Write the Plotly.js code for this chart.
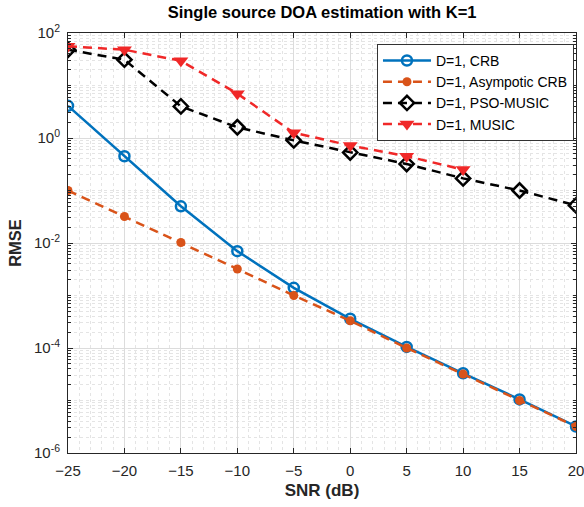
<!DOCTYPE html>
<html>
<head>
<meta charset="utf-8">
<script src="https://cdn.plot.ly/plotly-3.0.1.min.js"></script>
<style>html,body{margin:0;padding:0;background:#fff;}#chart{width:584px;height:507px;}</style>
</head>
<body>
<div id="chart"></div>
<script>
const snr = [-25, -20, -15, -10, -5, 0, 5, 10, 15, 20];
const snrMusic = [-25, -20, -15, -10, -5, 0, 5, 10];
const crb = [4.1, 0.45, 0.05, 0.007, 0.0014, 3.6e-4, 1.05e-4, 3.3e-5, 1.05e-5, 3.2e-6];
const asymCrb = [0.1, 0.032, 0.0102, 0.0032, 0.001, 3.3e-4, 1.0e-4, 3.2e-5, 1.0e-5, 3.2e-6];
const psoMusic = [48, 31, 4.0, 1.6, 0.9, 0.53, 0.32, 0.17, 0.1, 0.052];
const music = [56, 48, 29.5, 7, 1.26, 0.72, 0.45, 0.25];
const names = ['D=1, CRB', 'D=1, Asympotic CRB', 'D=1, PSO-MUSIC', 'D=1, MUSIC'];
const yTickVals = [1e-6, 1e-4, 1e-2, 1, 100];
const yTickText = ['10<sup>-6</sup>', '10<sup>-4</sup>', '10<sup>-2</sup>', '10<sup>0</sup>', '10<sup>2</sup>'];

const dash = '9px,6px';
const traces = [
  {x: snr, y: crb, name: names[0], mode: 'lines+markers',
   line: {color: '#0072BD', width: 2.5},
   marker: {symbol: 'circle-open', size: 10, color: '#0072BD', line: {width: 2.5, color: '#0072BD'}}},
  {x: snr, y: asymCrb, name: names[1], mode: 'lines+markers',
   line: {color: '#D95319', width: 2.5, dash: dash},
   marker: {symbol: 'circle', size: 9, color: '#D95319'}},
  {x: snr, y: psoMusic, name: names[2], mode: 'lines+markers',
   line: {color: '#000000', width: 2.5, dash: dash},
   marker: {symbol: 'diamond-open', size: 11, color: '#000000', line: {width: 2.5, color: '#000000'}}},
  {x: snrMusic, y: music, name: names[3], mode: 'lines+markers',
   line: {color: '#F02828', width: 2.5, dash: dash},
   marker: {symbol: 'triangle-down', size: 13, color: '#F02828'}}
];

const fam = 'Liberation Sans, Arial, sans-serif';
const axisFont = {family: fam, size: 15, color: '#262626'};
const layout = {
  width: 584, height: 507,
  margin: {l: 68, r: 8, t: 33, b: 54},
  paper_bgcolor: '#ffffff', plot_bgcolor: '#ffffff',
  font: axisFont,
  title: {text: '<b>Single source DOA estimation with K=1</b>', x: 0.5515, xanchor: 'center', y: 0.976, yanchor: 'middle',
          font: {family: fam, size: 16.5, color: '#000'}},
  xaxis: {
    range: [-25, 20], dtick: 5, tick0: -25,
    showline: true, linecolor: '#262626', linewidth: 1, mirror: 'ticks',
    ticks: 'inside', ticklen: 5, tickcolor: '#262626',
    showgrid: true, gridcolor: '#dcdcdc', gridwidth: 1,
    zeroline: false, ticklabelstandoff: 4, ticklabeloverflow: 'allow',
    minor: {dtick: 1, showgrid: true, gridcolor: '#e4e4e4', griddash: 'dot', gridwidth: 1},
    tickfont: axisFont,
    title: {text: '<b>SNR (dB)</b>', font: {family: fam, size: 17, color: '#262626'}, standoff: 6}
  },
  yaxis: {
    type: 'log', range: [-6, 2], tickmode: 'array', tickvals: yTickVals, ticktext: yTickText,
    showline: true, linecolor: '#262626', linewidth: 1, mirror: 'ticks',
    ticks: 'inside', ticklen: 5, tickcolor: '#262626',
    showgrid: true, gridcolor: '#dcdcdc', gridwidth: 1,
    zeroline: false, ticklabelstandoff: 4, ticklabeloverflow: 'allow',
    minor: {dtick: 'D1', showgrid: true, gridcolor: '#e4e4e4', griddash: 'dot', gridwidth: 1, ticks: 'inside', ticklen: 3, tickcolor: '#262626'},
    tickfont: axisFont,
    title: {text: '<b>RMSE</b>', font: {family: fam, size: 16.5, color: '#262626'}, standoff: 8}
  },
  legend: {
    x: 0.996, xanchor: 'right', y: 0.974, yanchor: 'top',
    bgcolor: '#ffffff', bordercolor: '#333333', borderwidth: 1,
    font: {family: fam, size: 14, color: '#000'},
    tracegroupgap: 0, itemwidth: 48
  },
  showlegend: true
};

Plotly.newPlot('chart', traces, layout, {displayModeBar: false, staticPlot: true});
</script>
</body>
</html>
